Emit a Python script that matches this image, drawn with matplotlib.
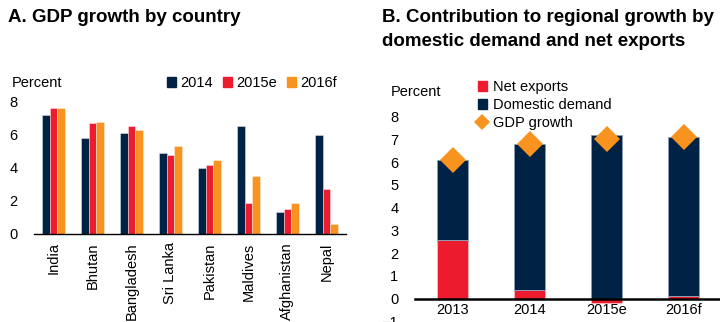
import numpy as np
import matplotlib.pyplot as plt
from matplotlib.patches import Patch
from matplotlib.lines import Line2D

plt.rcParams['font.family'] = ['Liberation Sans', 'DejaVu Sans']

NAVY = "#002244"
RED = "#ec1c2e"
ORANGE = "#f7931e"

# Panel A: GDP growth by country
countries = ["India", "Bhutan", "Bangladesh", "Sri Lanka", "Pakistan",
             "Maldives", "Afghanistan", "Nepal"]
g2014 = [7.2, 5.8, 6.1, 4.9, 4.0, 6.5, 1.3, 6.0]
g2015e = [7.6, 6.7, 6.5, 4.8, 4.2, 1.9, 1.5, 2.7]
g2016f = [7.6, 6.8, 6.3, 5.3, 4.5, 3.5, 1.9, 0.6]
series_a = ["2014", "2015e", "2016f"]

# Panel B: contribution to regional growth
years = ["2013", "2014", "2015e", "2016f"]
net_exports = [2.6, 0.4, -0.2, 0.1]
domestic_demand = [3.5, 6.4, 7.2, 7.0]
gdp_growth = [6.1, 6.8, 7.0, 7.1]

fig = plt.figure(figsize=(7.2, 3.22), dpi=100)

# ---- Panel A ----
ax1 = fig.add_axes([0.0472, 0.2733, 0.4333, 0.411])
x = np.arange(len(countries))
w = 0.196
for i, (vals, col) in enumerate(zip([g2014, g2015e, g2016f], [NAVY, RED, ORANGE])):
    ax1.bar(x + (i - 1) * w, vals, w, color=col, edgecolor=(1, 1, 1, 0.45),
            linewidth=0.6, label=series_a[i])
ax1.set_xlim(-0.5, len(countries) - 0.5)
ax1.set_ylim(0, 8)
ax1.set_yticks([0, 2, 4, 6, 8])
ax1.set_xticks(x)
ax1.set_xticklabels(countries, rotation=90)
for s in ["top", "right", "left"]:
    ax1.spines[s].set_visible(False)
ax1.spines["bottom"].set_color("black")
ax1.spines["bottom"].set_linewidth(1.0)
ax1.tick_params(axis="both", length=0, labelsize=10.5)
ax1.tick_params(axis="y", pad=12)
ax1.tick_params(axis="x", pad=6)

fig.text(0.011, 0.945, "A. GDP growth by country", fontsize=13.5,
         fontweight="bold", va="center")
fig.text(0.017, 0.742, "Percent", fontsize=10.5, va="center")
handles_a = [Patch(color=c) for c in [NAVY, RED, ORANGE]]
fig.legend(handles_a, series_a, loc="center left",
           bbox_to_anchor=(0.232, 0.742), ncol=3, frameon=False,
           fontsize=10.5, handlelength=0.6, handleheight=0.6,
           handletextpad=0.3, columnspacing=0.7, borderpad=0, borderaxespad=0)

# ---- Panel B ----
ax2 = fig.add_axes([0.5764, 0.0017, 0.4236, 0.636])
xb = np.arange(len(years))
wb = 0.4
net = np.array(net_exports)
dom = np.array(domestic_demand)
dom_bottom = np.where(net > 0, net, 0)
ax2.bar(xb, net, wb, color=RED, edgecolor=(1, 1, 1, 0.4), linewidth=0.6)
ax2.bar(xb, dom, wb, bottom=dom_bottom, color=NAVY,
        edgecolor="#8c9db3", linewidth=0.7)
ax2.plot(xb, gdp_growth, linestyle="none", marker="D", markersize=13,
         color=ORANGE, markeredgewidth=0)
ax2.set_xlim(-0.49, 3.47)
ax2.set_ylim(-1, 8)
ax2.set_yticks(range(-1, 9))
ax2.set_xticks(xb)
ax2.set_xticklabels(years)
for s in ["top", "right", "left"]:
    ax2.spines[s].set_visible(False)
ax2.spines["bottom"].set_position(("data", 0))
ax2.spines["bottom"].set_linewidth(1.8)
ax2.spines["bottom"].set_color("black")
ax2.tick_params(axis="both", length=0, labelsize=10.5)
ax2.tick_params(axis="y", pad=12)
ax2.tick_params(axis="x", pad=3)

fig.text(0.531, 0.945, "B. Contribution to regional growth by", fontsize=13.5,
         fontweight="bold", va="center")
fig.text(0.531, 0.872, "domestic demand and net exports", fontsize=13.5,
         fontweight="bold", va="center")
fig.text(0.543, 0.715, "Percent", fontsize=10.5, va="center")
handles_b = [Patch(color=RED), Patch(color=NAVY),
             Line2D([], [], linestyle="none", marker="D", markersize=8,
                    color=ORANGE, markeredgewidth=0)]
fig.legend(handles_b, ["Net exports", "Domestic demand", "GDP growth"],
           loc="upper left", bbox_to_anchor=(0.664, 0.751), frameon=False,
           fontsize=10.5, handlelength=0.6, handleheight=0.6,
           handletextpad=0.4, labelspacing=0.27, borderpad=0, borderaxespad=0)

fig.savefig("out.png", dpi=100)
